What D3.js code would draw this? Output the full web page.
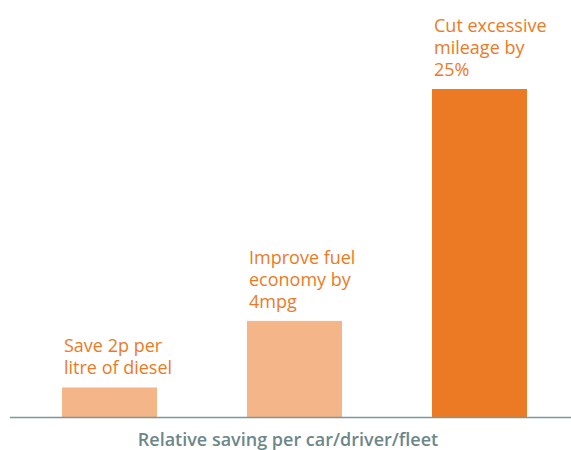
<!DOCTYPE html>
<html>
<head>
<meta charset="utf-8">
<script src="https://cdn.jsdelivr.net/npm/d3@7"></script>
<style>
  body { margin: 0; background: #fff; }
  svg { display: block; font-family: "Open Sans", sans-serif; }
</style>
</head>
<body>
<svg width="571" height="450"></svg>
<script>
// relative saving (largest = 100)
var categories = ["fuel", "economy", "mileage"];
var values = [9, 29.3, 100];
var labels = [
    ["Save 2p per", "litre of diesel"],
    ["Improve fuel", "economy by", "4mpg"],
    ["Cut excessive", "mileage by", "25%"]
];
var highlight = [false, false, true];
var axisTitle = "Relative saving per car/driver/fleet";

var svg = d3.select("svg");
var margin = {top: 89, right: 0, bottom: 33, left: 10};
var width = 571 - margin.left - margin.right;
var height = 450 - margin.top - margin.bottom;

var g = svg.append("g")
    .attr("transform", "translate(" + margin.left + "," + margin.top + ")");

// band width fixed to match bar width (95px bars, 185px step)
var x = d3.scaleBand()
    .domain(categories)
    .range([52, 517])
    .paddingInner(1 - 95 / 185)
    .paddingOuter(0);

var y = d3.scaleLinear()
    .domain([0, 100])
    .range([height, 0]);

g.selectAll("rect.bar")
    .data(values)
    .enter().append("rect")
    .attr("class", "bar")
    .attr("x", function(d, i) { return x(categories[i]); })
    .attr("width", x.bandwidth())
    .attr("y", function(d) { return y(d); })
    .attr("height", function(d) { return height - y(d); })
    .attr("fill", function(d, i) { return highlight[i] ? "#ec7a25" : "#f4b588"; });

// labels above each bar
g.selectAll("text.lab")
    .data(values)
    .enter().append("text")
    .attr("class", "lab")
    .attr("x", function(d, i) { return x(categories[i]) + 2; })
    .attr("y", function(d, i) { return y(d) - 13 - (labels[i].length - 1) * 22; })
    .attr("fill", "#ec7a25")
    .style("font-size", "18px")
    .each(function(d, i) {
        var t = d3.select(this);
        labels[i].forEach(function(line, k) {
            t.append("tspan")
                .attr("x", x(categories[i]) + 2)
                .attr("dy", k == 0 ? 0 : 22)
                .text(line);
        });
    });

// baseline
g.append("line")
    .attr("x1", 0)
    .attr("x2", width)
    .attr("y1", height + 0.5)
    .attr("y2", height + 0.5)
    .attr("stroke", "#7d9698")
    .attr("stroke-width", 1.5);

svg.append("text")
    .attr("x", 288)
    .attr("y", 446)
    .attr("text-anchor", "middle")
    .attr("fill", "#6d8789")
    .style("font-size", "18px")
    .style("font-weight", "600")
    .text(axisTitle);
</script>
</body>
</html>
